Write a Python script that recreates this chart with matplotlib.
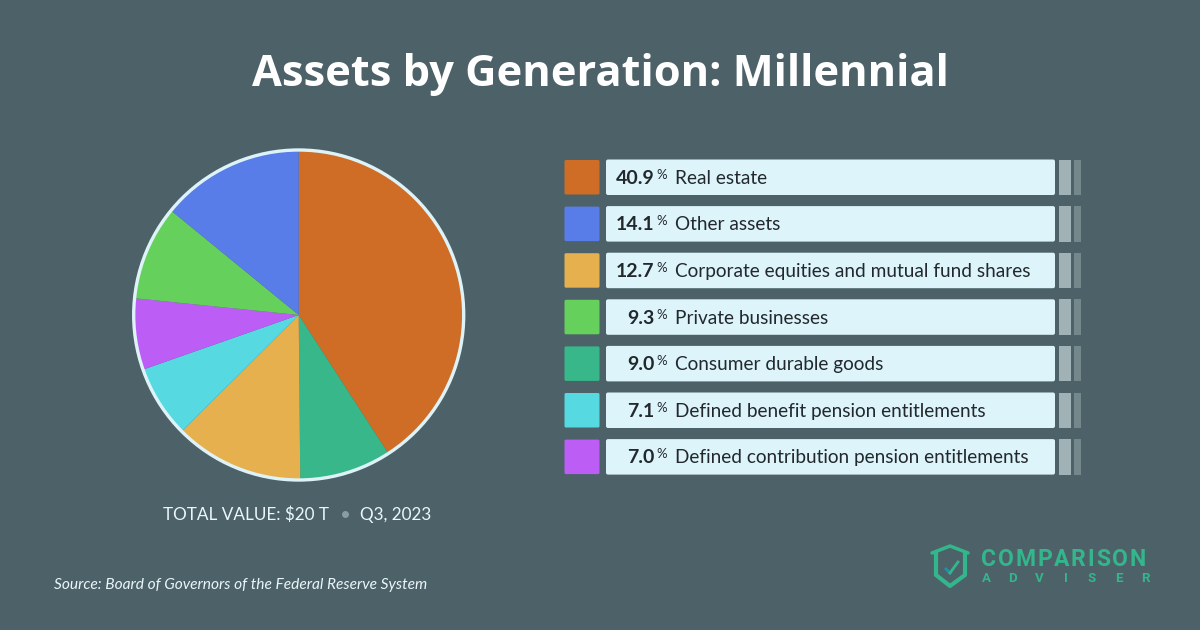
import matplotlib
matplotlib.use("Agg")
import matplotlib.pyplot as plt
from matplotlib.patches import FancyBboxPatch, Rectangle

# Legend order (descending)
categories = ["Real estate", "Other assets", "Corporate equities and mutual fund shares",
              "Private businesses", "Consumer durable goods",
              "Defined benefit pension entitlements", "Defined contribution pension entitlements"]
values = [40.9, 14.1, 12.7, 9.3, 9.0, 7.1, 7.0]
colors = ["#CF6C25", "#587DE8", "#E7B04F", "#66D05C", "#38B88A", "#56D9E0", "#BC5EF5"]
# Clockwise order of the slices, as indices into the lists above
pie_order = [0, 4, 2, 5, 6, 3, 1]

title = "Assets by Generation: Millennial"
source = "Source: Board of Governors of the Federal Reserve System"

BG = "#4C6268"
FONT = "Lato"
DARK = "#22282C"
W, H = 1200, 630

fig = plt.figure(figsize=(W / 100, H / 100), dpi=100, facecolor=BG)
ax = fig.add_axes([0, 0, 1, 1])
ax.set_xlim(0, W)
ax.set_ylim(H, 0)
ax.axis("off")

ax.text(600, 74.5, title, ha="center", va="center", color="white",
        fontsize=31.2, fontweight="bold", family="Open Sans")

# Pie
R = 166
pie_ax = fig.add_axes([(298.7 - R) / W, 1 - (315 + R) / H, 2 * R / W, 2 * R / H])
wedges, _ = pie_ax.pie([values[i] for i in pie_order],
                       colors=[colors[i] for i in pie_order],
                       startangle=90, counterclock=False, radius=1,
                       wedgeprops={"linewidth": 0})
pie_ax.set_aspect("equal")
pie_ax.set_xlim(-1, 1)
pie_ax.set_ylim(-1, 1)
pie_ax.add_patch(plt.Circle((0, 0), 0.994, fill=False, ec="#DDF3F8", lw=2.4, clip_on=False))

ax.text(246, 515, "TOTAL VALUE: $20 T", ha="center", va="center",
        color="#EAF6F9", fontsize=12.3, family=FONT)
ax.plot([345], [514], "o", ms=4, color="#8A9DA2")
ax.text(396, 515, "Q3, 2023", ha="center", va="center",
        color="#EAF6F9", fontsize=12.3, family=FONT)
ax.text(54, 585, source, ha="left", va="center", color="#EAF6F9",
        fontsize=11.15, style="italic", family=FONT)

# Legend rows
row_top, row_step, row_h = 159.5, 46.6, 35.5
for i, (cat, val, col) in enumerate(zip(categories, values, colors)):
    y = row_top + i * row_step
    ym = y + row_h / 2
    ax.add_patch(FancyBboxPatch((564.5, y + .5), 35, row_h - 1,
                                boxstyle="round,pad=0,rounding_size=1.5", fc=col, ec="none"))
    ax.add_patch(FancyBboxPatch((606, y), 449, row_h,
                                boxstyle="round,pad=0,rounding_size=2", fc="#DCF4FA", ec="none"))
    ax.add_patch(Rectangle((1059, y), 12, row_h, fc="#A0B2B5", ec="none"))
    ax.add_patch(Rectangle((1074, y), 6.5, row_h, fc="#74878B", ec="none"))
    ax.text(654.5, ym + 1, f"{val:.1f}", ha="right", va="center", color=DARK,
            fontsize=14, fontweight="bold", family=FONT)
    ax.text(656, ym - 2.5, "%", ha="left", va="center", color=DARK, fontsize=9.5, family=FONT)
    ax.text(675, ym + 1, cat, ha="left", va="center", color=DARK, fontsize=13.7, family=FONT)

# Logo
G = "#33B68B"
ax.plot([932, 950, 968], [553, 546, 553], color=G, lw=2.5, solid_capstyle="round")
ax.plot([936, 936, 950, 965, 965], [553, 575, 586, 575, 553], color=G, lw=3)
ax.plot([946, 950], [569, 573], color="#1E93A8", lw=2)
ax.plot([950, 958], [573, 562], color=G, lw=2)

# Letter-spaced wordmark: each glyph starts where the previous one ended, plus a gap
renderer = fig.canvas.get_renderer()
x_cursor = 981.0
for ch in "COMPARISON":
    t = ax.text(x_cursor, 559, ch, ha="left", va="center", color=G, fontsize=16.5,
                fontweight="bold", family="Roboto")
    x_cursor += t.get_window_extent(renderer).width + 1.75
for k, ch in enumerate("ADVISER"):
    ax.text(986 + k * 26.5, 579, ch, ha="center", va="center", color=G, fontsize=9.5,
            fontweight="bold", family="Roboto")

fig.savefig("out.png", dpi=100, facecolor=BG)
